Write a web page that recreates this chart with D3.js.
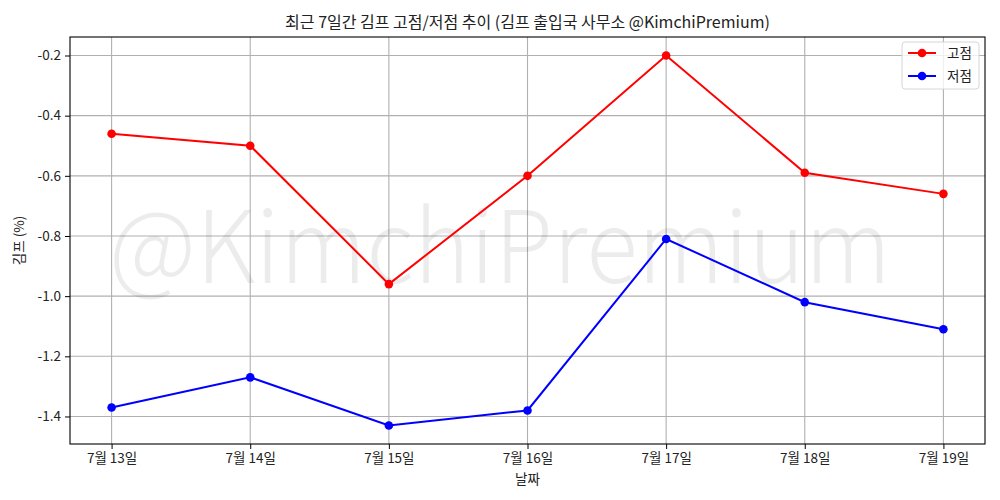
<!DOCTYPE html>
<html>
<head>
<meta charset="utf-8">
<script src="https://cdn.jsdelivr.net/npm/d3@7"></script>
<style>
  body { margin: 0; background: #fff; }
  svg text { font-family: "Noto Sans CJK KR", "Noto Sans", sans-serif; fill: #222; }
</style>
</head>
<body>
<div id="chart"></div>
<script>
// data
const dates = ["7월 13일", "7월 14일", "7월 15일", "7월 16일", "7월 17일", "7월 18일", "7월 19일"];
const highs = [-0.46, -0.50, -0.96, -0.60, -0.20, -0.59, -0.66];
const lows = [-1.37, -1.27, -1.43, -1.38, -0.81, -1.02, -1.11];
const yTicks = [-1.4, -1.2, -1.0, -0.8, -0.6, -0.4, -0.2];

const width = 1000, height = 500;
const margin = {top: 37, right: 15, bottom: 56, left: 70};
const innerW = width - margin.left - margin.right;
const innerH = height - margin.top - margin.bottom;

const svg = d3.select('#chart')
  .append('svg')
  .attr('width', width)
  .attr('height', height);

const g = svg.append('g')
  .attr('transform', 'translate(' + margin.left + ',' + margin.top + ')');

// x: index scale with matplotlib-like 5% margins
const n = dates.length;
const x = d3.scaleLinear()
  .domain([-(n - 1) * 0.05, (n - 1) * 1.05])
  .range([0, innerW]);

const [ymin, ymax] = d3.extent(highs.concat(lows));
const pad = (ymax - ymin) * 0.05;
const y = d3.scaleLinear()
  .domain([ymin - pad, ymax + pad])
  .range([innerH, 0]);

// grid
g.append('g')
  .selectAll('line')
  .data(d3.range(n))
  .enter().append('line')
  .attr('x1', d => x(d)).attr('x2', d => x(d))
  .attr('y1', 0).attr('y2', innerH)
  .attr('stroke', '#b0b0b0').attr('stroke-width', 1.1);

g.append('g')
  .selectAll('line')
  .data(yTicks)
  .enter().append('line')
  .attr('x1', 0).attr('x2', innerW)
  .attr('y1', d => y(d)).attr('y2', d => y(d))
  .attr('stroke', '#b0b0b0').attr('stroke-width', 1.1);

// watermark, centred on the figure
g.append('text')
  .attr('x', width / 2 - margin.left)
  .attr('y', innerH / 2 + 42)
  .attr('text-anchor', 'middle')
  .attr('textLength', 782)
  .attr('lengthAdjust', 'spacingAndGlyphs')
  .style('font-size', '100px')
  .style('font-weight', 300)
  .style('fill', '#000')
  .style('fill-opacity', 0.075)
  .text('@KimchiPremium');

// axes
const xAxis = g.append('g')
  .attr('transform', 'translate(0,' + innerH + ')')
  .call(d3.axisBottom(x).tickValues(d3.range(n)).tickFormat(i => dates[i]).tickSize(5).tickPadding(4));
xAxis.select('.domain').remove();
xAxis.selectAll('text').style('font-size', '13.5px');

const yAxis = g.append('g')
  .call(d3.axisLeft(y).tickValues(yTicks).tickFormat(d => d.toFixed(1)).tickSize(5).tickPadding(4));
yAxis.select('.domain').remove();
yAxis.selectAll('text').style('font-size', '13.5px');

g.append('rect')
  .attr('width', innerW).attr('height', innerH)
  .attr('fill', 'none').attr('stroke', '#000').attr('stroke-width', 1.1);

// series
const series = [
  {name: '고점', values: highs, color: '#ff0000'},
  {name: '저점', values: lows, color: '#0000ff'}
];

const line = d3.line().x((d, i) => x(i)).y(d => y(d));

series.forEach(s => {
  g.append('path')
    .datum(s.values)
    .attr('d', line)
    .attr('fill', 'none')
    .attr('stroke', s.color)
    .attr('stroke-width', 2);
  g.selectAll('.pt-' + s.name)
    .data(s.values)
    .enter().append('circle')
    .attr('cx', (d, i) => x(i))
    .attr('cy', d => y(d))
    .attr('r', 4.3)
    .attr('fill', s.color);
});

// legend
const legend = g.append('g')
  .attr('transform', 'translate(' + (innerW - 83) + ',5)');
legend.append('rect')
  .attr('width', 77).attr('height', 47).attr('rx', 3)
  .attr('fill', '#fff').attr('fill-opacity', 0.8)
  .attr('stroke', '#d6d6d6');
series.forEach((s, i) => {
  const ly = 11 + i * 23;
  legend.append('line')
    .attr('x1', 6).attr('x2', 34).attr('y1', ly).attr('y2', ly)
    .attr('stroke', s.color).attr('stroke-width', 2);
  legend.append('circle')
    .attr('cx', 20).attr('cy', ly).attr('r', 4.3).attr('fill', s.color);
  legend.append('text')
    .attr('x', 45).attr('y', ly + 5)
    .style('font-size', '13.5px')
    .text(s.name);
});

// labels
svg.append('text')
  .attr('x', margin.left + innerW / 2)
  .attr('y', 28)
  .attr('text-anchor', 'middle')
  .style('font-size', '16px')
  .text('최근 7일간 김프 고점/저점 추이 (김프 출입국 사무소 @KimchiPremium)');

svg.append('text')
  .attr('x', margin.left + innerW / 2)
  .attr('y', 484)
  .attr('text-anchor', 'middle')
  .style('font-size', '13.5px')
  .text('날짜');

svg.append('text')
  .attr('transform', 'translate(24,' + (margin.top + innerH / 2) + ') rotate(-90)')
  .attr('text-anchor', 'middle')
  .style('font-size', '13.5px')
  .text('김프 (%)');
</script>
</body>
</html>
